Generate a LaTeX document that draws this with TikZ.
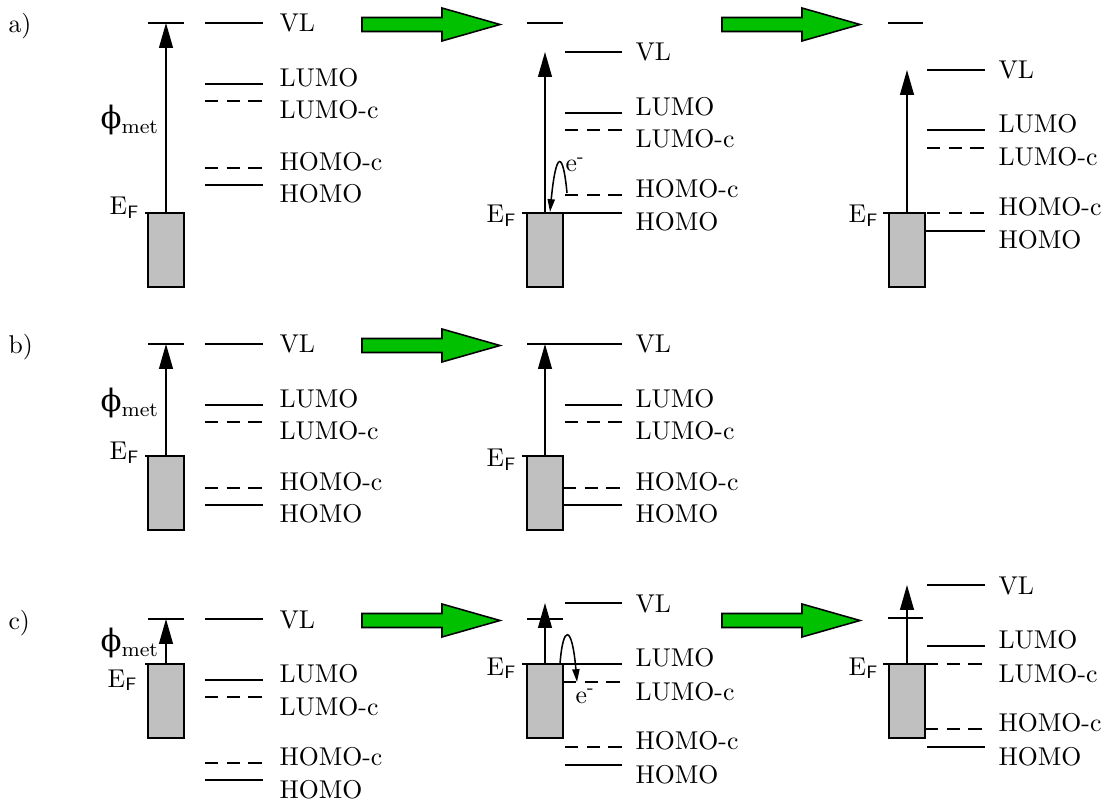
\documentclass[tikz,border=0pt]{standalone}
\usepackage{fontspec}
\newfontfamily\phifont{DejaVu Serif}
\usetikzlibrary{arrows.meta}
\definecolor{metalgray}{RGB}{192,192,192}
\definecolor{arrowgreen}{RGB}{0,192,0}
\tikzset{
  lev/.style={line width=0.6pt},
  clev/.style={line width=0.6pt, dash pattern=on 5.2pt off 3.2pt},
  metal/.style={draw, line width=0.8pt, fill=metalgray},
  wf/.style={line width=0.6pt, -{Triangle[length=9.7pt,width=5.4pt]}},
  eflow/.style={line width=0.6pt, -{Triangle[length=5pt,width=2.8pt]}},
  lab/.style={anchor=base west, inner sep=0pt},
  eflab/.style={anchor=base east, inner sep=0pt},
  philab/.style={anchor=base west, inner sep=0pt, font=\large},
  bigarrow/.style={draw=black, line width=0.6pt, fill=arrowgreen, line join=miter},
}
\newcommand{\EF}{$\mathrm{E}_{\mathsf{F}}$}
\newcommand{\phimet}{{\phifont\symbol{"03D5}}$_{\mathrm{met}}$}
\newcommand{\greenarrow}[3]{% x start, x end, y center
  \draw[bigarrow] (#1,#3-7) -- ({#2-58},#3-7) -- ({#2-58},#3-16.5) -- (#2,#3) -- ({#2-58},#3+16.5) -- ({#2-58},#3+7) -- (#1,#3+7) -- cycle;}
\begin{document}
\begin{tikzpicture}[x=0.3887pt,y=-0.3887pt]
\useasboundingbox (0,0) rectangle (1117,803);

% row labels
\node[lab] (ra) at (8,33) {a)};
\node[lab] (rb) at (8,354) {b)};
\node[lab] (rc) at (8,629) {c)};

% green arrows
\greenarrow{362}{500}{24.5}
\greenarrow{722}{860}{24.5}
\greenarrow{362}{500}{345.5}
\greenarrow{362}{500}{620.5}
\greenarrow{722}{860}{620.5}

%%%%%%%%%%%%%%%% ROW a %%%%%%%%%%%%%%%%
% --- left
\draw[metal] (148,213) rectangle (184,287);
\draw[lev] (145,213) -- (184,213);
\draw[lev] (148,23) -- (184,23);
\coordinate (aLf) at (166,213); \coordinate (aLv) at (166,23);
\draw[wf] (aLf) -- (aLv);
\draw[lev] (205,23) -- (263,23);
\draw[lev] (205,84) -- (263,84);
\draw[clev] (205,101) -- (263,101);
\draw[clev] (205,168) -- (263,168);
\draw[lev] (205,185) -- (263,185);
\node[lab] (aLvl) at (279,32) {VL};
\node[lab] (aLl) at (279,86.5) {LUMO};
\node[lab] (aLlc) at (279,119) {LUMO-c};
\node[lab] (aLhc) at (279,170.5) {HOMO-c};
\node[lab] (aLh) at (279,203) {HOMO};
\node[eflab] (aLef) at (140,215) {\EF};
\node[philab] (aLphi) at (100,129) {\phimet};

% --- middle
\draw[metal] (527,213) rectangle (563,287);
\draw[lev] (522,213) -- (563,213);
\draw[lev] (527,23) -- (563,23);
\coordinate (aMf) at (545,213); \coordinate (aMv) at (545,52);
\draw[wf] (aMf) -- (aMv);
\draw[lev] (565,52) -- (622,52);
\draw[lev] (565,113) -- (622,113);
\draw[clev] (565,130) -- (622,130);
\draw[clev] (565,195) -- (622,195);
\draw[lev] (563,213) -- (622,213);
\node[lab] (aMvl) at (635,61) {VL};
\node[lab] (aMl) at (635,115.5) {LUMO};
\node[lab] (aMlc) at (635,148) {LUMO-c};
\node[lab] (aMhc) at (635,197.5) {HOMO-c};
\node[lab] (aMh) at (635,231) {HOMO};
\node[eflab] (aMef) at (517,223) {\EF};
\coordinate (aEs) at (567,193); \coordinate (aEe) at (550,212);
\draw[eflow] (aEs) .. controls (563,150) and (556,150) .. (aEe);
\node[lab] (aMe) at (565,172) {e\textsuperscript{-}};

% --- right
\draw[metal] (889,213) rectangle (925,287);
\draw[lev] (883,213) -- (925,213);
\draw[lev] (888,23) -- (923,23);
\coordinate (aRf) at (907,213); \coordinate (aRv) at (907,70);
\draw[wf] (aRf) -- (aRv);
\draw[lev] (927,70) -- (985,70);
\draw[lev] (927,130) -- (985,130);
\draw[clev] (927,148) -- (985,148);
\draw[clev] (927,213) -- (985,213);
\draw[lev] (925,231) -- (985,231);
\node[lab] (aRvl) at (998,79) {VL};
\node[lab] (aRl) at (998,132.5) {LUMO};
\node[lab] (aRlc) at (998,166) {LUMO-c};
\node[lab] (aRhc) at (998,215.5) {HOMO-c};
\node[lab] (aRh) at (998,249) {HOMO};
\node[eflab] (aRef) at (879,223) {\EF};

%%%%%%%%%%%%%%%% ROW b %%%%%%%%%%%%%%%%
% --- left
\draw[metal] (148,456) rectangle (184,530);
\draw[lev] (145,456) -- (184,456);
\draw[lev] (148,344) -- (184,344);
\coordinate (bLf) at (166,456); \coordinate (bLv) at (166,344);
\draw[wf] (bLf) -- (bLv);
\draw[lev] (205,344) -- (263,344);
\draw[lev] (205,405) -- (263,405);
\draw[clev] (205,422) -- (263,422);
\draw[clev] (205,488) -- (263,488);
\draw[lev] (205,505) -- (263,505);
\node[lab] (bLvl) at (279,353) {VL};
\node[lab] (bLl) at (279,407.5) {LUMO};
\node[lab] (bLlc) at (279,440) {LUMO-c};
\node[lab] (bLhc) at (279,490.5) {HOMO-c};
\node[lab] (bLh) at (279,523) {HOMO};
\node[eflab] (bLef) at (140,460) {\EF};
\node[philab] (bLphi) at (100,412) {\phimet};

% --- middle
\draw[metal] (527,456) rectangle (563,530);
\draw[lev] (522,456) -- (563,456);
\draw[lev] (527,344) -- (622,344);
\coordinate (bMf) at (545,456); \coordinate (bMv) at (545,344);
\draw[wf] (bMf) -- (bMv);
\draw[lev] (565,405) -- (622,405);
\draw[clev] (565,422) -- (622,422);
\draw[clev] (563,488) -- (622,488);
\draw[lev] (563,505) -- (622,505);
\node[lab] (bMvl) at (635,353) {VL};
\node[lab] (bMl) at (635,407.5) {LUMO};
\node[lab] (bMlc) at (635,440) {LUMO-c};
\node[lab] (bMhc) at (635,490.5) {HOMO-c};
\node[lab] (bMh) at (635,523) {HOMO};
\node[eflab] (bMef) at (517,467) {\EF};

%%%%%%%%%%%%%%%% ROW c %%%%%%%%%%%%%%%%
% --- left
\draw[metal] (148,664) rectangle (184,738);
\draw[lev] (145,664) -- (184,664);
\draw[lev] (148,619) -- (184,619);
\coordinate (cLf) at (166,664); \coordinate (cLv) at (166,619);
\draw[wf] (cLf) -- (cLv);
\draw[lev] (205,619) -- (263,619);
\draw[lev] (205,680) -- (263,680);
\draw[clev] (205,697) -- (263,697);
\draw[clev] (205,763) -- (263,763);
\draw[lev] (205,780) -- (263,780);
\node[lab] (cLvl) at (279,628) {VL};
\node[lab] (cLl) at (279,682.5) {LUMO};
\node[lab] (cLlc) at (279,715) {LUMO-c};
\node[lab] (cLhc) at (279,765.5) {HOMO-c};
\node[lab] (cLh) at (279,798) {HOMO};
\node[eflab] (cLef) at (138,687) {\EF};
\node[philab] (cLphi) at (100,652) {\phimet};

% --- middle
\draw[metal] (527,664) rectangle (563,738);
\draw[lev] (522,664) -- (563,664);
\draw[lev] (527,619) -- (563,619);
\coordinate (cMf) at (545,664); \coordinate (cMv) at (545,603);
\draw[wf] (cMf) -- (cMv);
\draw[lev] (565,603) -- (622,603);
\draw[lev] (563,664) -- (622,664);
\draw[clev] (563,682) -- (622,682);
\draw[clev] (565,747) -- (622,747);
\draw[lev] (565,765) -- (622,765);
\node[lab] (cMvl) at (635,612) {VL};
\node[lab] (cMl) at (635,666.5) {LUMO};
\node[lab] (cMlc) at (635,700) {LUMO-c};
\node[lab] (cMhc) at (635,749.5) {HOMO-c};
\node[lab] (cMh) at (635,783) {HOMO};
\node[eflab] (cMef) at (517,675) {\EF};
\coordinate (cEs) at (560,664); \coordinate (cEe) at (577,682);
\draw[eflow] (cEs) .. controls (563,624) and (572,624) .. (cEe);
\node[lab] (cMe) at (575,703) {e\textsuperscript{-}};

% --- right
\draw[metal] (889,664) rectangle (925,738);
\draw[lev] (883,664) -- (925,664);
\draw[lev] (888,618) -- (923,618);
\coordinate (cRf) at (907,664); \coordinate (cRv) at (907,585);
\draw[wf] (cRf) -- (cRv);
\draw[lev] (927,585) -- (985,585);
\draw[lev] (927,646) -- (985,646);
\draw[clev] (925,664) -- (985,664);
\draw[clev] (925,729) -- (985,729);
\draw[lev] (927,747) -- (985,747);
\node[lab] (cRvl) at (998,594) {VL};
\node[lab] (cRl) at (998,648.5) {LUMO};
\node[lab] (cRlc) at (998,682) {LUMO-c};
\node[lab] (cRhc) at (998,731.5) {HOMO-c};
\node[lab] (cRh) at (998,765) {HOMO};
\node[eflab] (cRef) at (879,675) {\EF};
\end{tikzpicture}
\end{document}
